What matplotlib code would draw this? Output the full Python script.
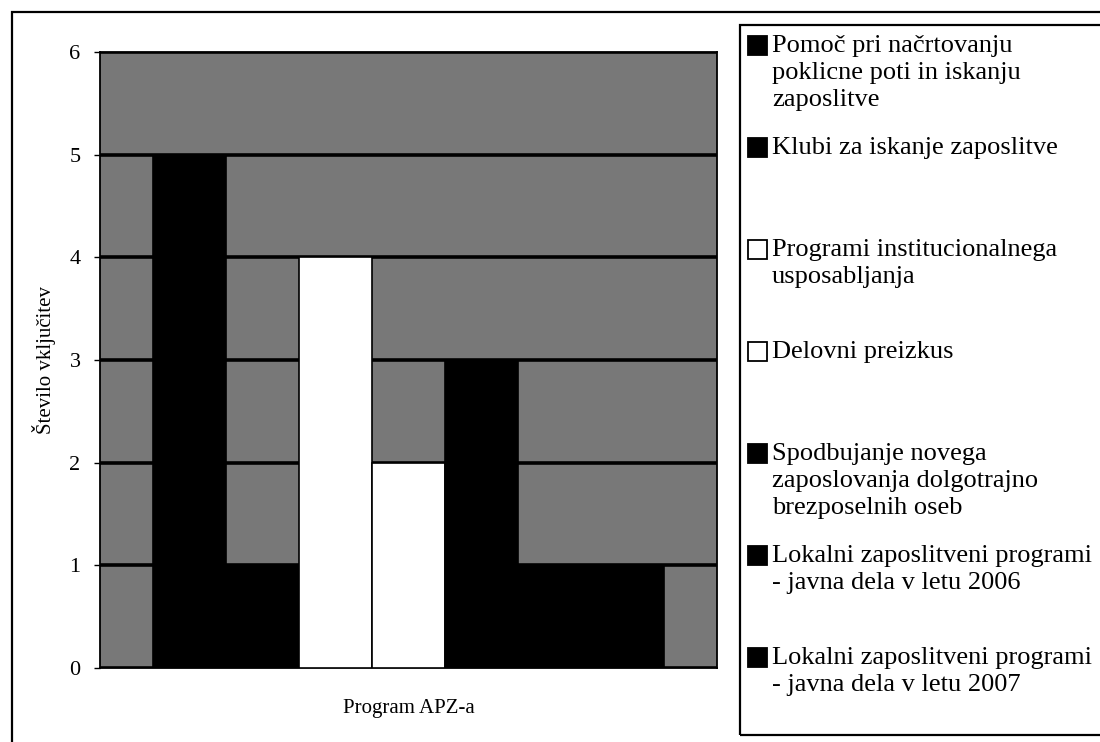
import matplotlib
matplotlib.use("Agg")
import matplotlib.pyplot as plt
from matplotlib.patches import Rectangle

# data
programs = [
    "Pomoč pri načrtovanju\npoklicne poti in iskanju\nzaposlitve",
    "Klubi za iskanje zaposlitve",
    "Programi institucionalnega\nusposabljanja",
    "Delovni preizkus",
    "Spodbujanje novega\nzaposlovanja dolgotrajno\nbrezposelnih oseb",
    "Lokalni zaposlitveni programi\n- javna dela v letu 2006",
    "Lokalni zaposlitveni programi\n- javna dela v letu 2007",
]
counts = [5, 1, 4, 2, 3, 1, 1]
bar_colors = ["black", "black", "white", "white", "black", "black", "black"]

plt.rcParams["font.family"] = ["Liberation Serif", "DejaVu Serif"]

W, H = 1100, 742
fig = plt.figure(figsize=(W / 100, H / 100), dpi=100)


def fx(x):
    return x / W


def fy(y):
    return 1 - y / H


# outer frame
fig.patches.append(Rectangle((fx(12), fy(760)), fx(1110 - 12), fy(12) - fy(760),
                             transform=fig.transFigure, fill=False,
                             edgecolor="black", linewidth=1.6))

# plot area
ax = fig.add_axes([fx(100), fy(668), fx(717 - 100), fy(52) - fy(668)])
ax.set_facecolor("#787878")
ax.bar(range(len(counts)), counts, width=1.0, color=bar_colors,
       edgecolor="black", linewidth=1.2, zorder=3)
ax.set_xlim(-1.22, 7.22)
ax.set_ylim(0, 6)
ax.set_yticks(range(0, 7))
ax.yaxis.grid(True, color="black", linewidth=2.6, zorder=1)
ax.set_axisbelow(True)
ax.set_xticks([])
ax.tick_params(axis="y", length=4, width=1, direction="out", pad=10, labelsize=16)
for s in ax.spines.values():
    s.set_linewidth(1.3)
ax.set_ylabel("Število vključitev", fontsize=15, labelpad=10)
ax.set_xlabel("Program APZ-a", fontsize=15, labelpad=22)

# legend box, entries spread evenly like the original
fig.patches.append(Rectangle((fx(740), fy(735)), fx(1110 - 740), fy(25) - fy(735),
                             transform=fig.transFigure, fill=False,
                             edgecolor="black", linewidth=1.6))
first_y = 46
step = 102
for i, (lab, col) in enumerate(zip(programs, bar_colors)):
    yc = first_y + i * step
    fig.patches.append(Rectangle((fx(748), fy(yc + 9)), fx(19), fy(yc - 10) - fy(yc + 9),
                                 transform=fig.transFigure, facecolor=col,
                                 edgecolor="black", linewidth=1.3))
    fig.text(fx(772), fy(yc - 11), lab, fontsize=19, va="top", ha="left",
             linespacing=1.3)

fig.savefig("out.png", dpi=100)
